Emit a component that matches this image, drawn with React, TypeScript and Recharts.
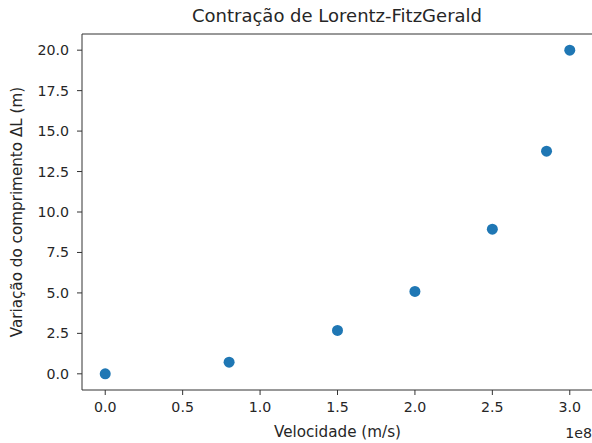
import React from 'react';
import { ScatterChart, Scatter, XAxis, YAxis, ReferenceLine } from 'recharts';

// velocity in units of 1e8 m/s (axis shows the "1e8" offset text)
const velocidades = [0, 0.8, 1.5, 2.0, 2.5, 2.85, 3.0];
const variacoes = [0, 0.72, 2.68, 5.09, 8.94, 13.76, 20.0];

const xTicks = [0, 0.5, 1.0, 1.5, 2.0, 2.5, 3.0];
const yTicks = [0, 2.5, 5, 7.5, 10, 12.5, 15, 17.5, 20];

const data = velocidades.map((v, i) => ({ v, dl: variacoes[i] }));

const FONT = '"DejaVu Sans", sans-serif';
const AXIS = '#333333';
const TEXT = '#262626';

const Dot = (props: any) => {
    const { cx, cy } = props;
    return <circle cx={cx} cy={cy} r={5.5} fill="#1f77b4" />;
};

const App: React.FC = () => {
    return (
        <div style={{ position: 'absolute', left: 0, top: 0, width: 592, height: 443, background: '#fff' }}>
            <ScatterChart
                width={592}
                height={443}
                margin={{ top: 34, right: -1, left: 0, bottom: 0 }}
            >
                <text x={337} y={22} textAnchor="middle" fontFamily={FONT} fontSize={18} fill={TEXT}>
                    Contração de Lorentz-FitzGerald
                </text>
                <XAxis
                    type="number"
                    dataKey="v"
                    domain={[-0.15, 3.15]}
                    ticks={xTicks}
                    tickFormatter={(t: number) => t.toFixed(1)}
                    allowDataOverflow
                    height={53}
                    stroke={AXIS}
                    tickSize={5}
                    tickMargin={7}
                    tick={{ fontFamily: FONT, fontSize: 14.2, fill: TEXT }}
                    label={{ value: 'Velocidade (m/s)', position: 'insideBottom', offset: 6, fontFamily: FONT, fontSize: 15.2, fill: TEXT }}
                />
                <YAxis
                    type="number"
                    dataKey="dl"
                    domain={[-1, 21]}
                    ticks={yTicks}
                    tickFormatter={(t: number) => t.toFixed(1)}
                    allowDataOverflow
                    width={82}
                    stroke={AXIS}
                    tickSize={5}
                    tickMargin={8}
                    tick={{ fontFamily: FONT, fontSize: 14.2, fill: TEXT }}
                    label={{ value: 'Variação do comprimento ΔL (m)', angle: -90, position: 'insideLeft', offset: 17, style: { textAnchor: 'middle' }, fontFamily: FONT, fontSize: 15.2, fill: TEXT }}
                />
                <ReferenceLine y={21} stroke={AXIS} ifOverflow="visible" />
                <Scatter data={data} shape={Dot} isAnimationActive={false} />
                <text x={592} y={438} textAnchor="end" fontFamily={FONT} fontSize={14.2} fill={TEXT}>
                    1e8
                </text>
            </ScatterChart>
        </div>
    );
};

export default App;
